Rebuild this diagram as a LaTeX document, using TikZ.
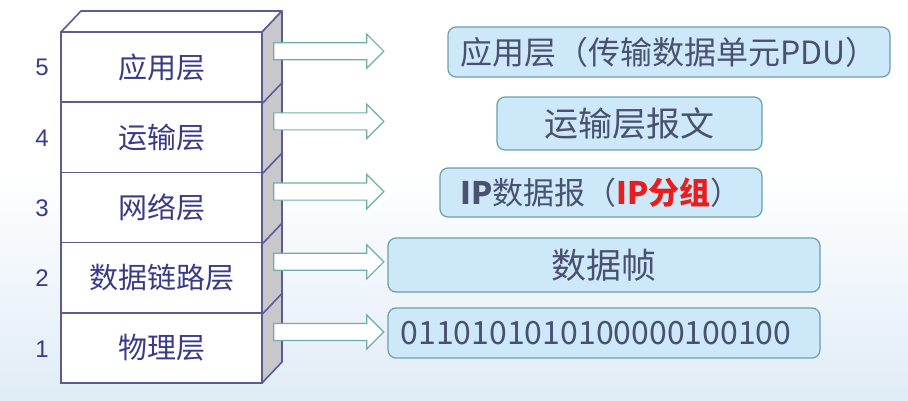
\documentclass[tikz,border=0pt]{standalone}
\usepackage{fontspec}
\newfontfamily\cjk{Noto Sans CJK SC}
\newfontfamily\numfont{Liberation Sans}
\usetikzlibrary{calc}
\definecolor{stackline}{RGB}{92,92,148}
\definecolor{stacktext}{RGB}{58,58,138}
\definecolor{sidegray}{RGB}{200,200,204}
\definecolor{arrowline}{RGB}{110,176,168}
\definecolor{boxfill}{RGB}{205,232,248}
\definecolor{boxline}{RGB}{106,160,168}
\definecolor{boxtext}{RGB}{74,80,112}
\definecolor{redtext}{RGB}{232,30,30}
\definecolor{bgblue}{RGB}{224,236,246}
\tikzset{
  layer/.style={draw=stackline, line width=1.6pt, fill=white, minimum width=201pt, minimum height=70.2pt, inner sep=0pt, font=\cjk\fontsize{29}{29}\selectfont, text=stacktext},
  num/.style={font=\numfont\fontsize{24}{24}\selectfont, text=stacktext},
  pdubox/.style={draw=boxline, line width=1.2pt, fill=boxfill, rounded corners=8pt, inner sep=0pt, font=\cjk\fontsize{32}{32}\selectfont, text=boxtext},
  blockarrow/.style={draw=arrowline, line width=1.2pt, fill=white, line join=miter}
}
\newcommand{\blockarr}[1]{%
  \path[blockarrow] ($(#1.north east)+(11,20-8.5)$) -- ++(93,0) -- ++(0,-8.5) -- ++(17,17) -- ++(-17,17) -- ++(0,-8.5) -- ++(-93,0) -- cycle;}
\begin{document}
\begin{tikzpicture}[x=1pt,y=-1pt]
\useasboundingbox (0,0) rectangle (908,401);
\fill[white] (0,0) rectangle (908,401);
\shade[top color=white, bottom color=bgblue] (0,170) rectangle (908,401);
% stack side and top faces
\path[draw=stackline, line width=1.6pt, fill=white, line join=round] (61,32) -- (81,11) -- (282,11) -- (262,32) -- cycle;
\path[draw=stackline, line width=1.6pt, fill=sidegray, line join=round] (262,32) -- (282,11) -- (282,362) -- (262,383) -- cycle;
% layers
\node[layer] (r5) at (161.5,67.1) {应用层};
\node[layer] (r4) at (161.5,137.3) {运输层};
\node[layer] (r3) at (161.5,207.5) {网络层};
\node[layer] (r2) at (161.5,277.7) {数据链路层};
\node[layer] (r1) at (161.5,347.9) {物理层};
\foreach \r in {r5,r4,r3,r2}{
  \draw[stackline, line width=1.6pt] (\r.south east) -- ++(20,-21);
}
% numbers
\node[num] (n5) at (42,67) {5};
\node[num] (n4) at (42,138) {4};
\node[num] (n3) at (42,208) {3};
\node[num] (n2) at (42,278) {2};
\node[num] (n1) at (42,349) {1};
% arrows
\foreach \r in {r5,r4,r3,r2,r1}{\blockarr{\r}}
% boxes
\node[pdubox, minimum width=442pt, minimum height=50pt] (b5) at (669,52) {应用层（传输数据单元PDU）};
\node[pdubox, minimum width=265pt, minimum height=53pt, font=\cjk\fontsize{34}{34}\selectfont] (b4) at (629.5,123.5) {运输层报文};
\node[pdubox, minimum width=322pt, minimum height=49pt, font=\cjk\fontsize{31}{31}\selectfont] (b3) at (601,192.5) {\textbf{IP}数据报（{\color{redtext}\textbf{IP分组}}）};
\node[pdubox, minimum width=432pt, minimum height=54pt, font=\cjk\fontsize{35}{35}\selectfont] (b2) at (604,265) {数据帧};
\node[pdubox, minimum width=432pt, minimum height=50pt, font=\cjk\fontsize{32}{32}\selectfont] (b1) at (604,333) {\hspace*{-16pt}0110101010100000100100};
\end{tikzpicture}
\end{document}
